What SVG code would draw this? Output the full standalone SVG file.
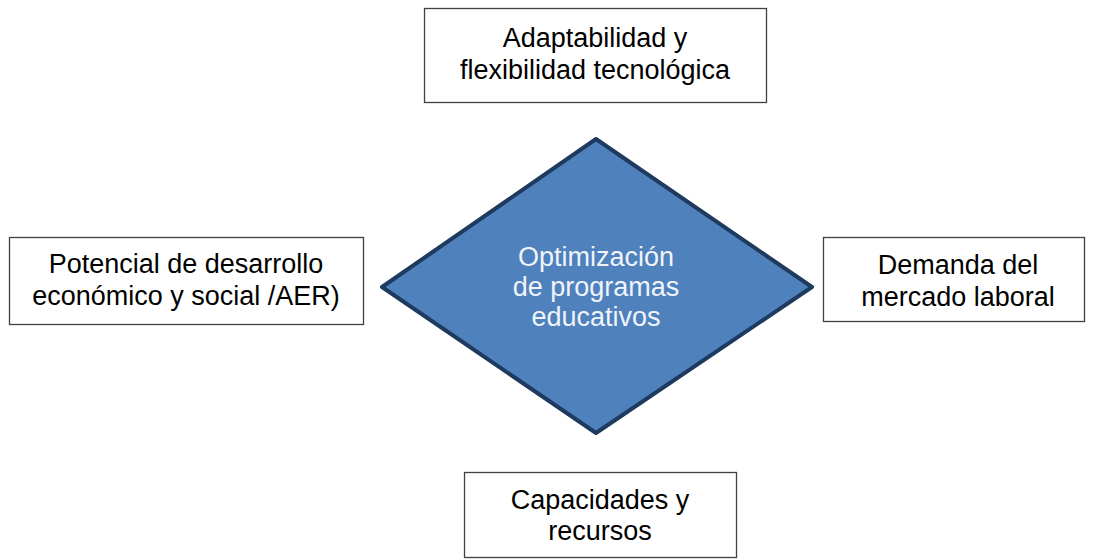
<svg xmlns="http://www.w3.org/2000/svg" width="1093" height="559" viewBox="0 0 1093 559">
<style>
.box{fill:#ffffff;stroke:#404040;stroke-width:1.3}
.t{font-family:"Liberation Sans",Arial,sans-serif;font-size:27px;fill:#000000;text-anchor:middle}
.w{fill:#f0f4fa}
</style>
<rect width="1093" height="559" fill="#ffffff"/>
<g id="connectors"></g>
<g id="top">
<rect class="box" x="424.5" y="8.5" width="342" height="94"/>
<text class="t" x="595" y="47">Adaptabilidad y</text>
<text class="t" x="595" y="79">flexibilidad tecnológica</text>
</g>
<g id="left">
<rect class="box" x="9.5" y="237.5" width="354" height="87"/>
<text class="t" x="186" y="273">Potencial de desarrollo</text>
<text class="t" x="186" y="305">económico y social /AER)</text>
</g>
<g id="right">
<rect class="box" x="823.5" y="237.5" width="261" height="84"/>
<text class="t" x="958" y="274">Demanda del</text>
<text class="t" x="958" y="306">mercado laboral</text>
</g>
<g id="center">
<polygon points="596,139 812,287 596,433 382,287" fill="#4f81bd" stroke="#1f3a5f" stroke-width="4" stroke-linejoin="round"/>
<text class="t w" x="596" y="266">Optimización</text>
<text class="t w" x="596" y="296">de programas</text>
<text class="t w" x="596" y="326">educativos</text>
</g>
<g id="bottom">
<rect class="box" x="464.5" y="472.5" width="272" height="85"/>
<text class="t" x="600" y="509">Capacidades y</text>
<text class="t" x="600" y="540">recursos</text>
</g>
</svg>
